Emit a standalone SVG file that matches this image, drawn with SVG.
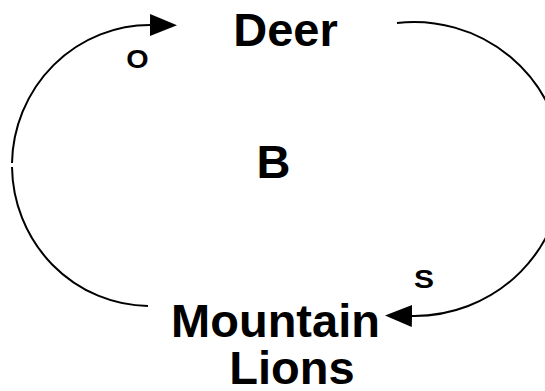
<svg xmlns="http://www.w3.org/2000/svg" width="545" height="391" viewBox="0 0 545 391">
<style>
.node{font-family:"Liberation Sans",Arial,sans-serif;font-weight:bold;font-size:47px;fill:#000;text-anchor:middle}
.pol{font-family:"Liberation Sans",Arial,sans-serif;font-weight:bold;font-size:25px;fill:#000;text-anchor:middle}
.link{fill:none;stroke:#000;stroke-width:2}
</style>
<defs>
<marker id="arrow" markerUnits="userSpaceOnUse" markerWidth="30" markerHeight="24" refX="1" refY="11" orient="auto">
<path d="M0,0 L27,11 L0,22 Z" fill="#000"/>
</marker>
</defs>
<rect width="545" height="391" fill="#fff"/>
<g id="connectors">
<path class="link" d="M148,306 A138,141 0 0 1 12,167"/>
<path class="link" d="M12,163 A138,141 0 0 1 151,25" marker-end="url(#arrow)"/>
<path class="link" d="M397,23 A149,147 0 1 1 411,316" marker-end="url(#arrow)"/>
</g>
<g id="deer"><text class="node" x="285.5" y="46">Deer</text></g>
<g id="lions"><text class="node" x="275.5" y="337">Mountain</text><text class="node" x="292" y="384">Lions</text></g>
<g id="loop"><text class="node" x="273.5" y="178">B</text></g>
<g id="labels">
<text class="pol" x="137.5" y="68" transform="translate(137.5 0) scale(1.15 1) translate(-137.5 0)">O</text>
<text class="pol" x="424" y="288" transform="translate(424 0) scale(1.2 1) translate(-424 0)">S</text>
</g>
</svg>
